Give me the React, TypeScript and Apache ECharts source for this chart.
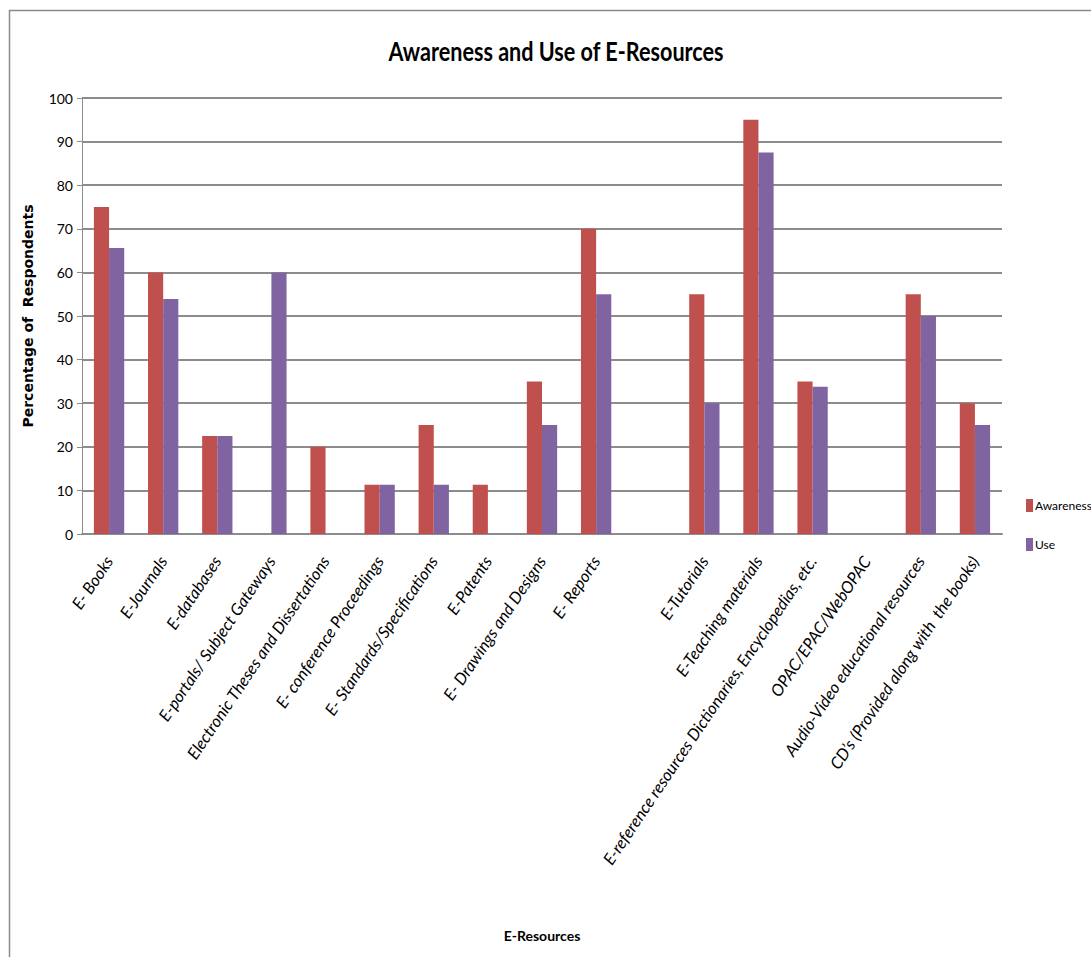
import React, { useEffect, useRef } from "react";
import * as echarts from "echarts";

const categories = [
  "E- Books",
  "E-Journals",
  "E-databases",
  "E-portals/ Subject Gateways",
  "Electronic Theses and Dissertations",
  "E- conference Proceedings",
  "E- Standards/Specifications",
  "E-Patents",
  "E- Drawings and Designs",
  "E- Reports",
  "",
  "E-Tutorials",
  "E-Teaching materials",
  "E-reference resources Dictionaries, Encyclopedias, etc.",
  "OPAC/EPAC/WebOPAC",
  "Audio-Video educational resources",
  "CD\u2019s (Provided along with  the books)",
];

const awareness = [75, 60, 22.5, 0, 20, 11.3, 25, 11.3, 35, 70, 0, 55, 95, 35, 0, 55, 30];
const use = [65.6, 53.9, 22.5, 60, 0, 11.3, 11.3, 0, 25, 55, 0, 30, 87.5, 33.8, 0, 50, 25];

const seriesNames = ["Awareness", "Use"];
const seriesColors = ["#C0504D", "#8064A2"];

const chartTitle = "Awareness and Use of E-Resources";
const lato = "Lato, 'Open Sans', sans-serif";

export default function App() {
  const ref = useRef<HTMLDivElement>(null);

  useEffect(() => {
    document.body.style.margin = "0";
    const chart = echarts.init(ref.current!, null, { renderer: "svg" });
    chart.setOption({
      animation: false,
      backgroundColor: "#ffffff",
      graphic: [
        {
          type: "rect",
          shape: { x: 9.5, y: 10.5, width: 1200, height: 1200 },
          style: { fill: "none", stroke: "#8a8a8a", lineWidth: 1.5 },
          silent: true,
        },
        {
          type: "text",
          x: 556,
          y: 51,
          scaleX: 0.8,
          style: {
            text: chartTitle,
            fontFamily: lato,
            fontWeight: "bold",
            fontSize: 27,
            fill: "#000",
            align: "center",
            verticalAlign: "middle",
          },
          silent: true,
        },
      ],
      legend: {
        orient: "vertical",
        left: 1021,
        top: 494,
        itemWidth: 7,
        itemHeight: 13,
        itemGap: 26,
        icon: "rect",
        textStyle: { fontFamily: lato, fontSize: 12, color: "#000", padding: [0, 0, 0, -3] },
        data: seriesNames,
      },
      grid: { left: 82, right: 89, top: 98, bottom: 423, containLabel: false },
      xAxis: {
        type: "category",
        data: categories,
        name: "E-Resources",
        nameLocation: "middle",
        nameGap: 394,
        nameTextStyle: { fontFamily: lato, fontWeight: "bold", fontSize: 14, color: "#000" },
        axisLine: { lineStyle: { color: "#8c8c8c", width: 2 } },
        axisTick: { show: false },
        axisLabel: {
          interval: 0,
          rotate: 56,
          margin: 24,
          fontFamily: lato,
          fontStyle: "italic",
          fontSize: 16.5,
          color: "#000",
        },
      },
      yAxis: {
        type: "value",
        min: 0,
        max: 100,
        interval: 10,
        name: "Percentage of  Respondents",
        nameLocation: "middle",
        nameGap: 47,
        nameTextStyle: { fontFamily: "'DejaVu Sans', sans-serif", fontWeight: "bold", fontSize: 14, color: "#000" },
        axisLine: { show: true, lineStyle: { color: "#8c8c8c", width: 1 } },
        axisTick: { show: true, length: 5, lineStyle: { color: "#8c8c8c" } },
        axisLabel: { fontFamily: lato, fontSize: 14, color: "#000", margin: 9 },
        splitLine: { lineStyle: { color: "#8c8c8c", width: 2 } },
      },
      series: [
        {
          name: seriesNames[0],
          type: "bar",
          data: awareness,
          itemStyle: { color: seriesColors[0] },
          barGap: "0%",
          barCategoryGap: "44%",
        },
        {
          name: seriesNames[1],
          type: "bar",
          data: use,
          itemStyle: { color: seriesColors[1] },
          barGap: "0%",
          barCategoryGap: "44%",
        },
      ],
    });
    return () => chart.dispose();
  }, []);

  return <div ref={ref} style={{ width: 1091, height: 957 }} />;
}
